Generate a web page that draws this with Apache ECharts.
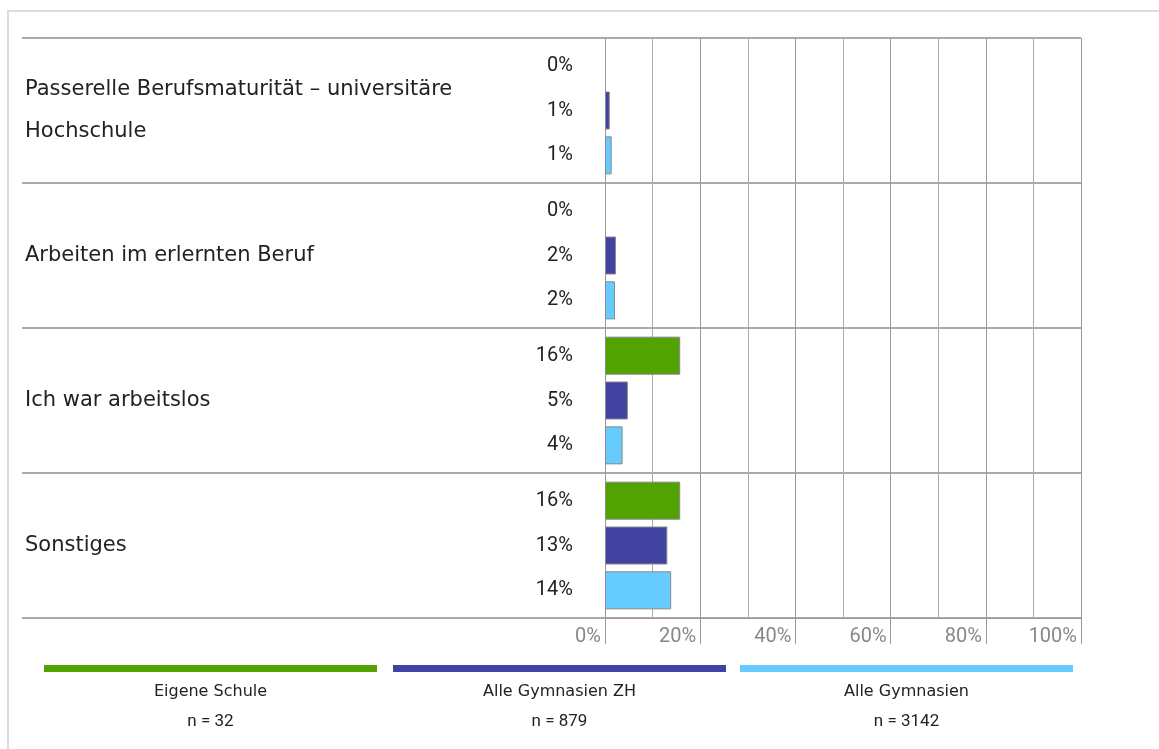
<!DOCTYPE html>
<html>
<head>
<meta charset="utf-8">
<script src="https://cdn.jsdelivr.net/npm/echarts@6/dist/echarts.min.js"></script>
<style>
  html, body { margin: 0; padding: 0; overflow: hidden; background: #fff; }
  /* cadre gris clair en haut et à gauche */
  #cadre { position: absolute; left: 7px; top: 10px; width: 1300px; height: 900px;
           border-top: 2px solid #dcdcdc; border-left: 2px solid #dcdcdc; }
  #chart { position: absolute; left: 0; top: 0; width: 1159px; height: 749px; }
</style>
</head>
<body>
<div id="cadre"></div>
<div id="chart"></div>
<script>
// Catégories (de haut en bas)
const categories = [
  'Passerelle Berufsmaturität – universitäre Hochschule',
  'Arbeiten im erlernten Beruf',
  'Ich war arbeitslos',
  'Sonstiges'
];
// Valeurs en %
const eigeneSchule = [0, 0, 15.8, 15.8];
const alleGymZH = [1.0, 2.3, 4.8, 13.1];
const alleGym = [1.4, 2.1, 3.7, 13.9];
// Légende
const seriesNames = ['Eigene Schule', 'Alle Gymnasien ZH', 'Alle Gymnasien'];
const sampleSizes = ['n = 32', 'n = 879', 'n = 3142'];
const colors = ['#52a300', '#4242a3', '#66ccff'];
const xTicks = [0, 20, 40, 60, 80, 100];

// polices : lettres larges pour les textes, chiffres étroits pour les nombres
const FONT_TEXT = 'DejaVu Sans';
const FONT_NUM = 'Roboto';

const chart = echarts.init(document.getElementById('chart'));

// une série barre par groupe
const makeSeries = (name, data, color) => ({
  name: name,
  type: 'bar',
  // pas de bordure pour les barres à 0
  data: data.map((v) => (v === 0 ? { value: v, itemStyle: { borderWidth: 0 } } : v)),
  barWidth: 38,
  barGap: '18%',
  itemStyle: { color: color, borderColor: '#888', borderWidth: 1 },
  label: {
    show: true,
    position: 'left',
    distance: 32,
    formatter: (p) => Math.round(p.value) + '%',
    color: '#222',
    fontSize: 20,
    fontFamily: FONT_NUM
  },
  emphasis: { disabled: true }
});

// positions des légendes (barre de couleur + texte dessous)
const legendLeft = [44, 393, 740];
const legendWidth = 333;

const option = {
  animation: false,
  textStyle: { fontFamily: FONT_NUM },
  grid: { left: 605, top: 38, right: 78, bottom: 131, containLabel: false },
  xAxis: {
    type: 'value',
    min: xTicks[0],
    max: xTicks[xTicks.length - 1],
    interval: 20,
    axisLine: { show: true, lineStyle: { color: '#999', width: 1 } },
    axisTick: { show: true, length: 26, lineStyle: { color: '#999', width: 1 } },
    axisLabel: {
      formatter: '{value}%',
      align: 'right',
      padding: [0, 4, 0, 0],
      margin: 9,
      fontSize: 20,
      color: '#888',
      fontFamily: FONT_NUM
    },
    splitLine: { show: true, lineStyle: { color: '#999', width: 1 } },
    minorTick: { show: false, splitNumber: 2 },
    minorSplitLine: { show: true, lineStyle: { color: '#aaa', width: 1 } }
  },
  yAxis: {
    type: 'category',
    inverse: true,
    data: categories,
    axisLine: { show: true, lineStyle: { color: '#999', width: 1 } },
    // les ticks servent de séparateurs horizontaux jusqu'au bord gauche
    axisTick: { show: true, length: 583, interval: 0, lineStyle: { color: '#aaa', width: 2 } },
    splitLine: { show: true, interval: 0, lineStyle: { color: '#aaa', width: 2 } },
    axisLabel: {
      align: 'left',
      margin: 580,
      width: 480,
      overflow: 'break',
      fontSize: 21,
      lineHeight: 42,
      padding: [3, 0, 0, 0],
      color: '#222',
      fontFamily: FONT_TEXT
    }
  },
  legend: seriesNames.map((name, i) => ({
    data: [name],
    left: legendLeft[i],
    top: 665,
    padding: 0,
    icon: 'rect',
    itemWidth: legendWidth,
    itemHeight: 7,
    itemStyle: { borderWidth: 0 },
    selectedMode: false,
    formatter: () => ''
  })),
  title: seriesNames.map((name, i) => ({
    text: name,
    subtext: sampleSizes[i],
    left: legendLeft[i] + legendWidth / 2,
    top: 683,
    textAlign: 'center',
    padding: 0,
    itemGap: 12,
    textStyle: { fontSize: 16, fontWeight: 'normal', color: '#222', lineHeight: 18, fontFamily: FONT_TEXT },
    subtextStyle: { fontSize: 17, color: '#222', lineHeight: 18, fontFamily: FONT_NUM }
  })),
  series: [
    makeSeries(seriesNames[0], eigeneSchule, colors[0]),
    makeSeries(seriesNames[1], alleGymZH, colors[1]),
    makeSeries(seriesNames[2], alleGym, colors[2])
  ]
};

chart.setOption(option);
</script>
</body>
</html>
